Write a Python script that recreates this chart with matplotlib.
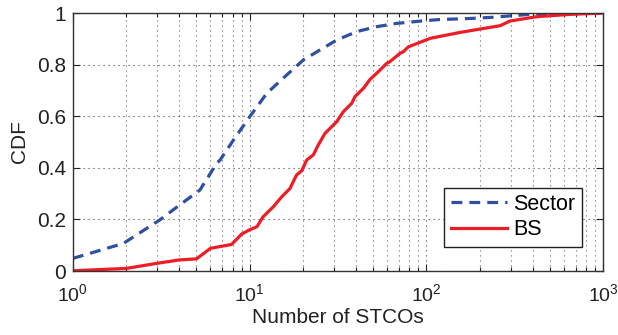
import numpy as np
import matplotlib
matplotlib.use('Agg')
import matplotlib.pyplot as plt
from matplotlib.ticker import LogLocator, NullFormatter

plt.rcParams['font.family'] = ['Liberation Sans', 'DejaVu Sans']
plt.rcParams['mathtext.fontset'] = 'custom'
plt.rcParams['mathtext.rm'] = 'Liberation Sans'
plt.rcParams['mathtext.default'] = 'regular'

# CDF of number of STCOs, per sector and per base station
sector_x = [1, 1.93, 3.1, 4.0, 4.8, 5.23, 6.5, 6.8, 8.1, 10, 12.5, 16.2, 20.1, 25, 31, 40.3,
            52, 68, 96, 119, 177, 229, 285, 386, 500, 1000]
sector_y = [0.049, 0.107, 0.198, 0.255, 0.295, 0.314, 0.417, 0.43, 0.508, 0.598, 0.689, 0.76,
            0.818, 0.857, 0.895, 0.928, 0.947, 0.96, 0.970, 0.975, 0.979, 0.983, 0.988,
            0.995, 0.999, 1.0]

bs_x = [1, 2, 3, 4, 5, 6, 7.9, 9, 10, 11, 11.9, 13.6, 15.2, 16.9, 18.4, 19.7, 21, 22.9, 24.4,
        26.7, 31.1, 33.9, 37.8, 39.4, 44, 48, 53.5, 59.6, 62, 70.9, 74, 79, 105, 155, 201,
        261, 297, 421, 650, 1000]
bs_y = [0.001, 0.01, 0.03, 0.043, 0.047, 0.088, 0.103, 0.143, 0.16, 0.172, 0.21, 0.249,
        0.288, 0.32, 0.372, 0.389, 0.43, 0.45, 0.488, 0.534, 0.579, 0.618, 0.65, 0.676,
        0.708, 0.743, 0.773, 0.805, 0.811, 0.844, 0.85, 0.869, 0.902, 0.925, 0.938, 0.951,
        0.969, 0.986, 0.995, 1.0]

y_ticks = [0, 0.2, 0.4, 0.6, 0.8, 1]
y_labels = ['0', '0.2', '0.4', '0.6', '0.8', '1']
x_ticks = [1, 10, 100, 1000]
x_labels = [r'$10^{0}$', r'$10^{1}$', r'$10^{2}$', r'$10^{3}$']

fig = plt.figure(figsize=(6.18, 3.35), dpi=100)
ax = fig.add_axes([0.118, 0.191, 0.858, 0.770])

ax.plot(sector_x, sector_y, color='#2f4fa2', lw=2.3, dashes=(3.4, 2.2), label='Sector')
ax.plot(bs_x, bs_y, color='#ee1c25', lw=2.3, label='BS')

ax.set_xscale('log')
ax.set_xlim(1, 1000)
ax.set_ylim(0, 1)
ax.set_xticks(x_ticks)
ax.set_xticklabels(x_labels)
ax.xaxis.set_minor_locator(LogLocator(base=10, subs=np.arange(2, 10)))
ax.xaxis.set_minor_formatter(NullFormatter())
ax.set_yticks(y_ticks)
ax.set_yticklabels(y_labels)

ax.grid(True, which='major', axis='both', ls=(0, (1, 3.5)), color='#444444', lw=0.8)
ax.grid(True, which='minor', axis='x', ls=(0, (1, 3.5)), color='#666666', lw=0.8)

ax.tick_params(which='both', direction='in', top=True, right=True,
               colors='#222222', width=0.8)
ax.tick_params(which='major', length=5)
ax.tick_params(which='minor', length=3)
ax.tick_params(axis='x', which='major', pad=9, labelsize=14)
ax.tick_params(axis='y', which='major', pad=5, labelsize=15)
for s in ax.spines.values():
    s.set_color('#333333')
    s.set_linewidth(1.0)

ax.set_xlabel('Number of STCOs', fontsize=15, color='#222222', labelpad=2)
ax.set_ylabel('CDF', fontsize=15, color='#222222', labelpad=6)

leg = ax.legend(loc='lower right', bbox_to_anchor=(0.96, 0.094), borderaxespad=0,
                fontsize=15.5, fancybox=False, framealpha=1, edgecolor='#222222',
                handlelength=2.6, handletextpad=0.3, labelspacing=0.2, borderpad=0.3)
leg.get_frame().set_linewidth(1.0)

fig.savefig('out.png', dpi=100)
